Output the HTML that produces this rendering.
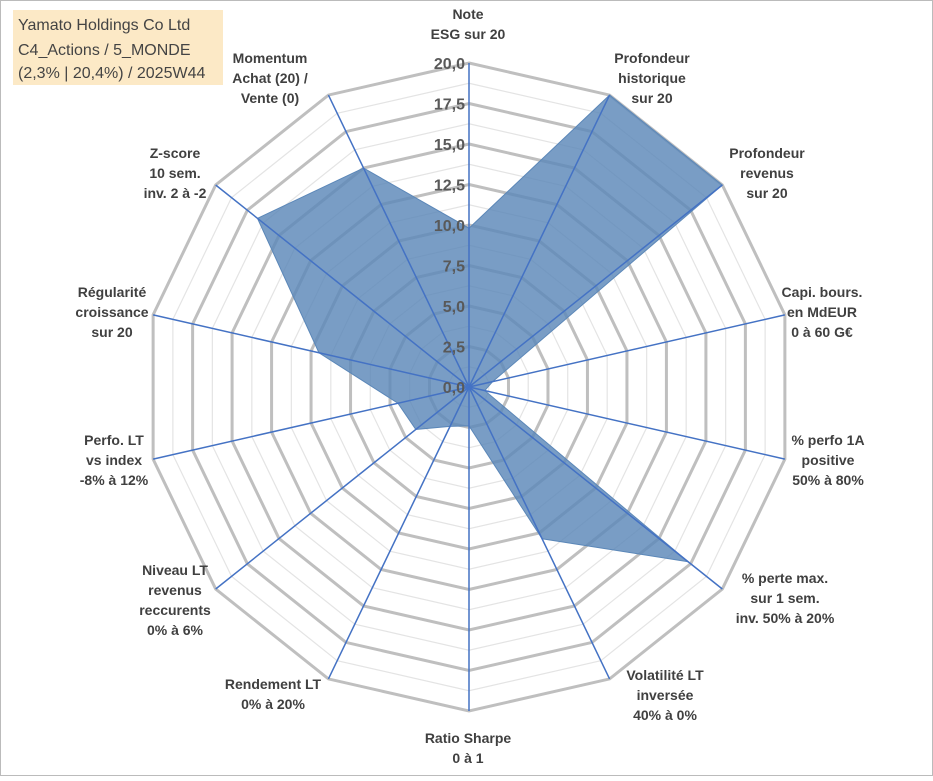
<!DOCTYPE html>
<html><head><meta charset="utf-8"><style>
body{margin:0;background:#fff;}
svg text{font-family:"Liberation Sans",sans-serif;}
</style></head><body>
<svg width="933" height="776" xmlns="http://www.w3.org/2000/svg">
<rect x="0.5" y="0.5" width="932" height="775" fill="#fff" stroke="#bbb"/>
<rect x="13" y="10" width="210" height="75" fill="#fce9c6"/>
<text x="18" y="30" font-size="16" fill="#444">Yamato Holdings Co Ltd</text>
<text x="18" y="55" font-size="16" fill="#444">C4_Actions / 5_MONDE</text>
<text x="18" y="78" font-size="16" fill="#444">(2,3% | 20,4%) / 2025W44</text>
<g id="grid"></g><g id="series"></g><g id="spokes"></g><g id="ticks"></g><g id="labels"></g>
</svg>
<script>
const categories=[["Note","ESG sur 20"],["Profondeur","historique","sur 20"],["Profondeur","revenus","sur 20"],["Capi. bours.","en MdEUR","0 à 60 G€"],["% perfo 1A","positive","50% à 80%"],["% perte max.","sur 1 sem.","inv. 50% à 20%"],["Volatilité LT","inversée","40% à 0%"],["Ratio Sharpe","0 à 1"],["Rendement LT","0% à 20%"],["Niveau LT","revenus","reccurents","0% à 6%"],["Perfo. LT","vs index","-8% à 12%"],["Régularité","croissance","sur 20"],["Z-score","10 sem.","inv. 2 à -2"],["Momentum","Achat (20) /","Vente (0)"]];
const values=[9.8,20,20,1.5,1.0,17.3,10.4,2.4,2.7,4.2,4.5,9.5,16.7,15];
const tickLabels=["0,0","2,5","5,0","7,5","10,0","12,5","15,0","17,5","20,0"];
const maxV=20;
const labelPos=[[468,19],[652,63],[767,158],[822,297],[828,445],[785,583],[665,680],[468,743],[273,689],[175,575],[114,445],[112,297],[175,158],[270,63]];
const cx=469,cy=387,R=324,N=categories.length;
const ns="http://www.w3.org/2000/svg";
function pt(i,v){const a=i*2*Math.PI/N;const r=v/maxV*R;return [cx+r*Math.sin(a),cy-r*Math.cos(a)];}
function mk(t,attrs,parent){const e=document.createElementNS(ns,t);for(const k in attrs)e.setAttribute(k,attrs[k]);document.getElementById(parent).appendChild(e);return e;}
for(let k=1;k<=16;k++){const v=k*1.25;const major=k%2===0;
 const pts=categories.map((c,i)=>pt(i,v).join(",")).join(" ");
 const g=mk("polygon",{points:pts,fill:"none",stroke:major?"#bfbfbf":"#e4e4e4","stroke-width":major?3:1.2},"grid");
 
 }
const poly=mk("polygon",{points:values.map((v,i)=>pt(i,v).join(",")).join(" "),fill:"#5b87b8","fill-opacity":"0.82",stroke:"#5b87b8","stroke-width":1},"series");


categories.forEach((c,i)=>{const [x,y]=pt(i,maxV);
 const l=mk("line",{x1:cx,y1:cy,x2:x,y2:y,stroke:"#4472c4","stroke-width":1.5},"spokes");
 
 
 const [lx,ly]=labelPos[i];
 const t=mk("text",{x:lx,y:ly,"text-anchor":"middle","font-size":14,"font-weight":"bold",fill:"#404040"},"labels");
 
 
 c.forEach((line,j)=>{const ts=document.createElementNS(ns,"tspan");ts.setAttribute("x",lx);ts.setAttribute("dy",j===0?0:20);ts.textContent=line;t.appendChild(ts);});
});
tickLabels.forEach((t,k)=>{const y=cy-k*2.5/maxV*R;
 const e=mk("text",{x:cx-4,y:y+6,"text-anchor":"end","font-size":16,"font-weight":"bold",fill:"#595959"},"ticks");
 
 
 e.textContent=t;});
</script>
</body></html>
